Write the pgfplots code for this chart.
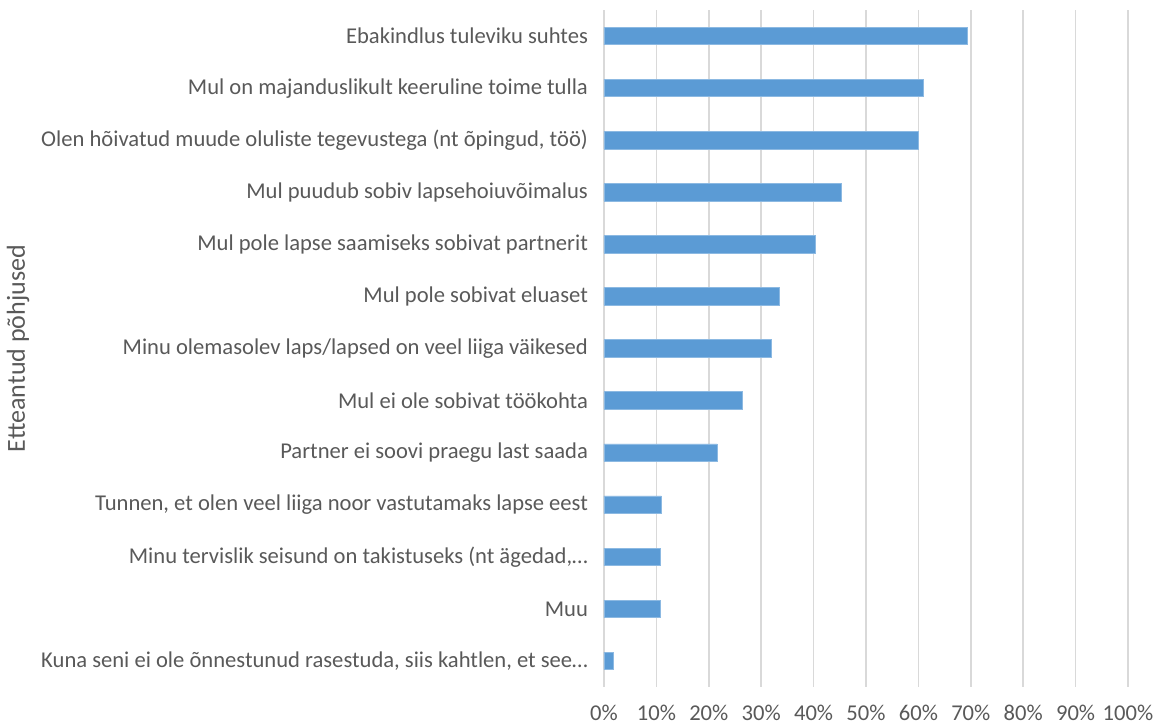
\documentclass[border=0pt]{standalone}
\usepackage{pgfplots}
\pgfplotsset{compat=1.18}
\usepackage{fontspec}
\setmainfont{Carlito}
\definecolor{barblue}{HTML}{5B9BD5}
\definecolor{txtgray}{HTML}{595959}
\definecolor{gridgray}{HTML}{D9D9D9}

\begin{document}
\begin{tikzpicture}
% picture frame: 1156 x 724 px at 0.5pt per px, plot area starts at px (604, 687)
\path[use as bounding box] (-302pt,-18.5pt) rectangle (276pt,343.5pt);
\begin{axis}[
	at={(0,0)}, anchor=south west,
	scale only axis,
	width=262pt, height=338.5pt,
	xbar, bar width=8.75pt,
	xmin=0, xmax=100,
	xtick={0,10,...,100},
	xticklabel={\pgfmathprintnumber{\tick}\%},
	ymin=-0.5, ymax=12.5, y dir=reverse,
	ytick={0,...,12},
	yticklabels={
		Ebakindlus tuleviku suhtes,
		Mul on majanduslikult keeruline toime tulla,
		{Olen hõivatud muude oluliste tegevustega (nt õpingud, töö)},
		Mul puudub sobiv lapsehoiuvõimalus,
		Mul pole lapse saamiseks sobivat partnerit,
		Mul pole sobivat eluaset,
		Minu olemasolev laps/lapsed on veel liiga väikesed,
		Mul ei ole sobivat töökohta,
		Partner ei soovi praegu last saada,
		{Tunnen, et olen veel liiga noor vastutamaks lapse eest},
		{Minu tervislik seisund on takistuseks (nt ägedad,…},
		Muu,
		{Kuna seni ei ole õnnestunud rasestuda, siis kahtlen, et see…}},
	major tick length=0pt,
	axis x line*=bottom, axis y line*=left,
	axis line style={draw=none},
	xmajorgrids,
	major grid style={gridgray, line width=0.8pt},
	tick label style={font=\fontsize{11.3}{13}\selectfont, text=txtgray},
	/pgf/number format/assume math mode=true,
	x tick label style={anchor=center, yshift=-13pt},
	y tick label style={xshift=-4.5pt},
	ylabel={Etteantud põhjused},
	ylabel style={font=\fontsize{13}{15}\selectfont, text=txtgray,
		at={(axis description cs:-1.1183,0.5)}, anchor=center},
]
\addplot[fill=barblue, draw=barblue!70!white, line width=0.4pt]
	coordinates {
		(69.3,0) (60.9,1) (60.0,2) (45.4,3) (40.4,4) (33.4,5) (31.9,6)
		(26.4,7) (21.6,8) (10.95,9) (10.8,10) (10.8,11) (1.8,12)
	};
\end{axis}
\end{tikzpicture}
\end{document}
